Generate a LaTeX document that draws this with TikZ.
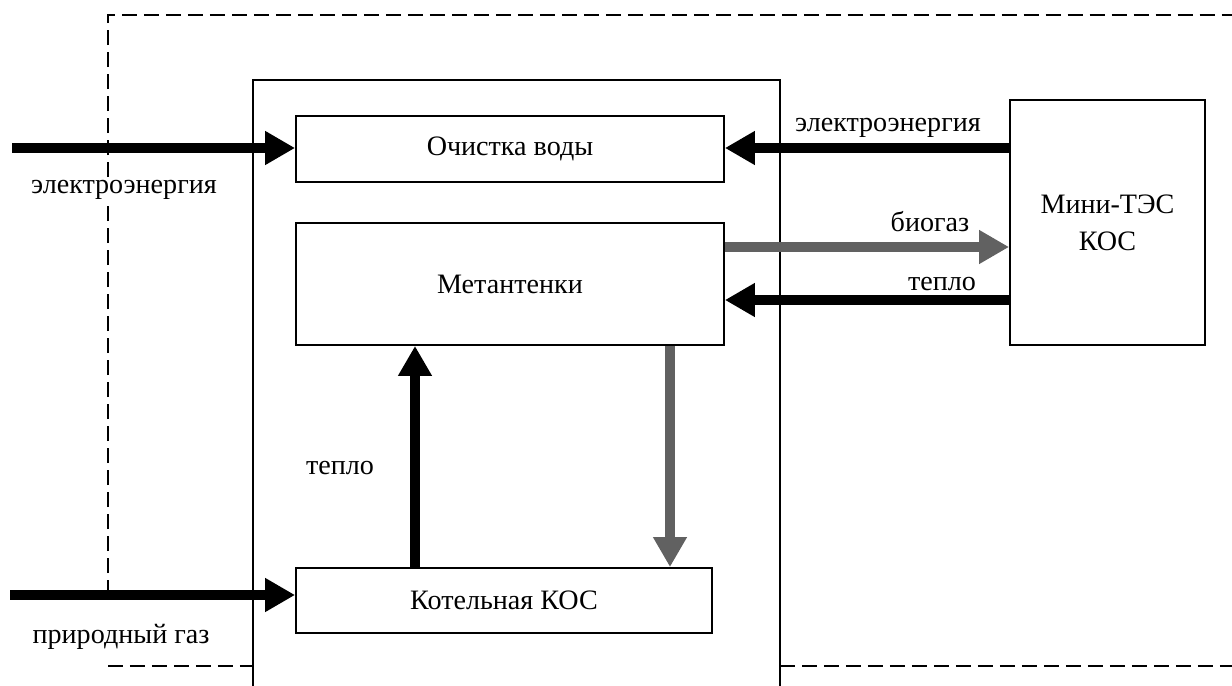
\documentclass[tikz,border=0pt]{standalone}
\usepackage{fontspec}
\setmainfont{Liberation Serif}
\usetikzlibrary{arrows.meta,calc}

\tikzset{
  box/.style={draw, line width=1.1pt, inner sep=0pt, font=\fontsize{16}{19}\selectfont},
  flow/.style={line width=5.5pt, -{Triangle[length=0.6cm,width=0.64cm]}},
  gasflow/.style={flow, draw=black!62, fill=black!62},
  frame/.style={line width=1.1pt, dash pattern=on 0.3cm off 0.14cm},
  lbl/.style={font=\fontsize{16}{19}\selectfont, inner sep=1pt}
}

\begin{document}
\begin{tikzpicture}[x=0.02cm, y=-0.02cm]
    \useasboundingbox (0, 0) rectangle (1232, 686);

    % boundary lines
    \draw[frame] (108, 595) -- (108, 15) -- (1232, 15);
    \draw[frame] (108, 666) -- (253, 666);
    \draw[frame] (780, 666) -- (1232, 666);
    \draw[line width=1.1pt] (253, 686) -- (253, 80) -- (780, 80) -- (780, 686);

    % blocks
    \node[box, minimum width=8.56cm, minimum height=1.32cm] (ochistka) at (510, 149) {Очистка воды};
    \node[box, minimum width=8.56cm, minimum height=2.44cm] (metan) at (510, 284) {Метантенки};
    \node[box, minimum width=8.32cm, minimum height=1.3cm] (kotel) at (504, 600.5) {Котельная КОС};
    \node[box, minimum width=3.9cm, minimum height=4.9cm, align=center] (mini) at (1107.5, 222.5) {Мини-ТЭС\\[2pt]КОС};

    \coordinate (elin) at (12, 148);
    \coordinate (gasin) at (10, 595);
    \coordinate (bg) at (0, 247);
    \coordinate (hot) at (0, 300);
    \coordinate (up) at (415, 0);
    \coordinate (down) at (670, 0);

    % flows
    \draw[flow] (elin) -- (ochistka.west |- elin);
    \draw[flow] (gasin) -- (kotel.west |- gasin);
    \draw[flow] (mini.west |- elin) -- (ochistka.east |- elin);
    \draw[gasflow] (metan.east |- bg) -- (mini.west |- bg);
    \draw[flow] (mini.west |- hot) -- (metan.east |- hot);
    \draw[flow] (kotel.north -| up) -- (metan.south -| up);
    \draw[gasflow] (metan.south -| down) -- (kotel.north -| down);

    % labels
    \node[lbl, fill=white] (l1) at (124, 190) {электроэнергия};
    \node[lbl] (l2) at (121, 637) {природный газ};
    \node[lbl] (l3) at (888, 128) {электроэнергия};
    \node[lbl] (l4) at (930, 222) {биогаз};
    \node[lbl] (l5) at (942, 284) {тепло};
    \node[lbl] (l6) at (340, 468) {тепло};
\end{tikzpicture}
\end{document}
